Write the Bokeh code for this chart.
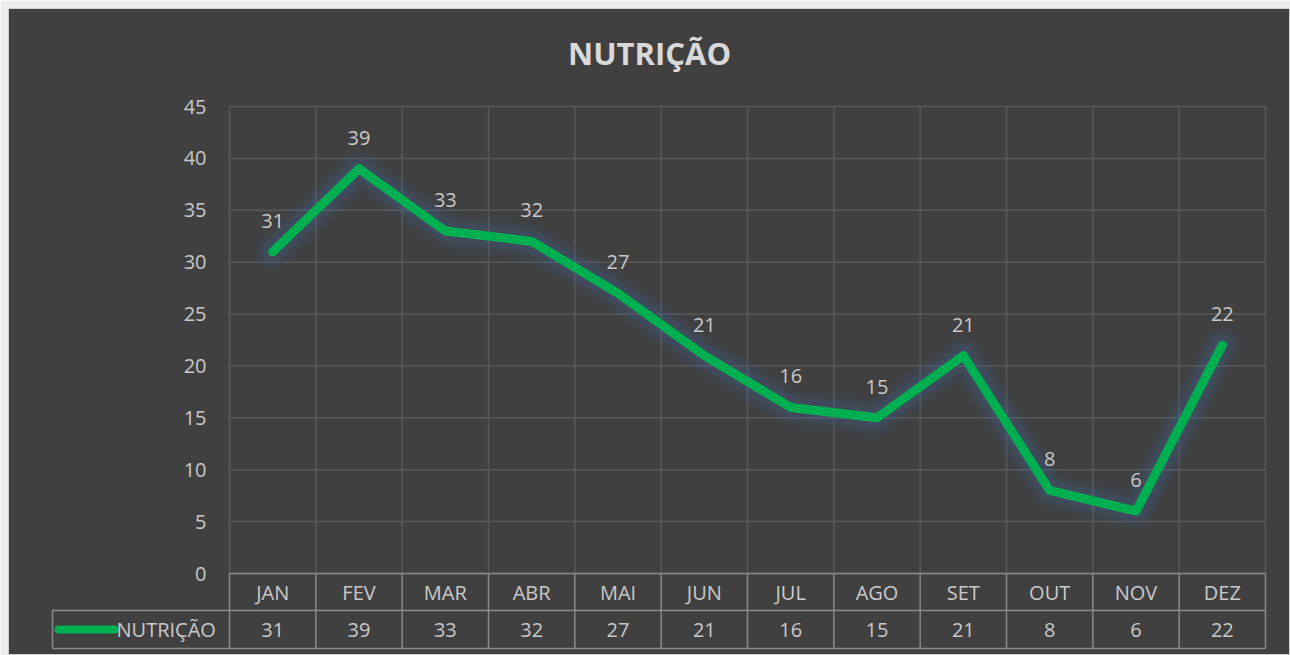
from bokeh.plotting import figure
from bokeh.models import Range1d, ColumnDataSource
from bokeh.core.properties import value
from bokeh.embed import file_html
from bokeh.resources import INLINE

# ---- data ----
months = ["JAN", "FEV", "MAR", "ABR", "MAI", "JUN", "JUL", "AGO", "SET", "OUT", "NOV", "DEZ"]
values = [31, 39, 33, 32, 27, 21, 16, 15, 21, 8, 6, 22]
series_name = "NUTRIÇÃO"
title_text = "NUTRIÇÃO"
y_ticks = [0, 5, 10, 15, 20, 25, 30, 35, 40, 45]

FONT = "Open Sans"
BG = "#404040"
TXT = "#c9c9c9"
GRID = "#595959"
TABLE = "#8a8a8a"
GREEN = "#00b050"
FS = "20px"

n = len(months)
W, H = 1282, 647          # frame (chart area) size
# geometry (pixels in frame coords)
plot_left, plot_right = 221, 1257
plot_top, plot_bottom = 98, 565
px_per_col = (plot_right - plot_left) / n
px_per_unit = (plot_bottom - plot_top) / 45.0

x_start = -plot_left / px_per_col
x_end = (W - plot_left) / px_per_col
y_end = plot_bottom / px_per_unit
y_start = -(H - plot_bottom) / px_per_unit

p = figure(width=W + 8, height=H + 8, output_backend="svg", toolbar_location=None,
           x_range=Range1d(x_start, x_end), y_range=Range1d(y_start, y_end),
           x_axis_location=None, y_axis_location=None,
           min_border_left=8, min_border_top=8, min_border_right=0, min_border_bottom=0,
           background_fill_color=BG, border_fill_color="#ececec",
           outline_line_color="#d0d0d0", outline_line_width=1)
p.grid.visible = False

# table row boundaries in data units
row1_bottom = -(610 - 573) / px_per_unit
row2_bottom = -(648 - 573) / px_per_unit
legend_left = -(229 - 52) / px_per_col

# horizontal gridlines
p.segment(x0=[0] * len(y_ticks), x1=[n] * len(y_ticks), y0=y_ticks, y1=y_ticks,
          line_color=GRID, line_width=1.5)
# vertical gridlines at category boundaries
bounds = list(range(n + 1))
p.segment(x0=bounds, x1=bounds, y0=[0] * len(bounds), y1=[45] * len(bounds),
          line_color=GRID, line_width=1.5)

# data table lines
p.segment(x0=[0, legend_left, legend_left], x1=[n, n, n],
          y0=[0, row1_bottom, row2_bottom], y1=[0, row1_bottom, row2_bottom],
          line_color=TABLE, line_width=1.5)
p.segment(x0=bounds, x1=bounds, y0=[0] * len(bounds), y1=[row2_bottom] * len(bounds),
          line_color=TABLE, line_width=1.5)
p.segment(x0=[legend_left], x1=[legend_left], y0=[row1_bottom], y1=[row2_bottom],
          line_color=TABLE, line_width=1.5)

xs = [i + 0.5 for i in range(n)]
src = ColumnDataSource(dict(x=xs, y=values, m=months, v=[str(v) for v in values]))

# glow
for w, a in [(36, 0.05), (30, 0.06), (24, 0.07), (18, 0.08)]:
    p.line("x", "y", source=src, line_color="#4472c4", line_alpha=a, line_width=w,
           line_join="round", line_cap="round")
p.line("x", "y", source=src, line_color=GREEN, line_width=9,
       line_join="round", line_cap="round")

# data labels
p.text("x", "y", text="v", source=src, y_offset=-31, text_align="center",
       text_baseline="middle", text_font=value(FONT), text_font_size=FS,
       text_color=TXT)

# y tick labels
p.text(x=[0] * len(y_ticks), y=y_ticks, text=[str(t) for t in y_ticks], x_offset=-23,
       text_align="right", text_baseline="middle", text_font=value(FONT),
       text_font_size=FS, text_color=TXT)

# table: month row and value row
mid1 = row1_bottom / 2
mid2 = (row1_bottom + row2_bottom) / 2
p.text("x", y=mid1, text="m", source=src, text_align="center", text_baseline="middle",
       text_font=value(FONT), text_font_size=FS, text_color=TXT)
p.text("x", y=mid2, text="v", source=src, text_align="center", text_baseline="middle",
       text_font=value(FONT), text_font_size=FS, text_color=TXT)

# legend key in table
key_x0 = legend_left + 6 / px_per_col
key_x1 = legend_left + 62 / px_per_col
p.segment(x0=[key_x0], x1=[key_x1], y0=[mid2], y1=[mid2], line_color=GREEN,
          line_width=8, line_cap="round")
p.text(x=[key_x1], y=[mid2], text=[series_name], x_offset=2, text_align="left",
       text_baseline="middle", text_font=value(FONT), text_font_size=FS,
       text_color=TXT)

# title, centred on the chart area
title_x = x_start + (x_end - x_start) / 2
p.text(x=[title_x], y=[(plot_bottom - 44) / px_per_unit], text=[title_text],
       text_align="center", text_baseline="middle", text_font=value(FONT),
       text_font_size="31px", text_font_style="bold", text_color="#d9d9d9")

open("out.html", "w").write(file_html(p, INLINE))
